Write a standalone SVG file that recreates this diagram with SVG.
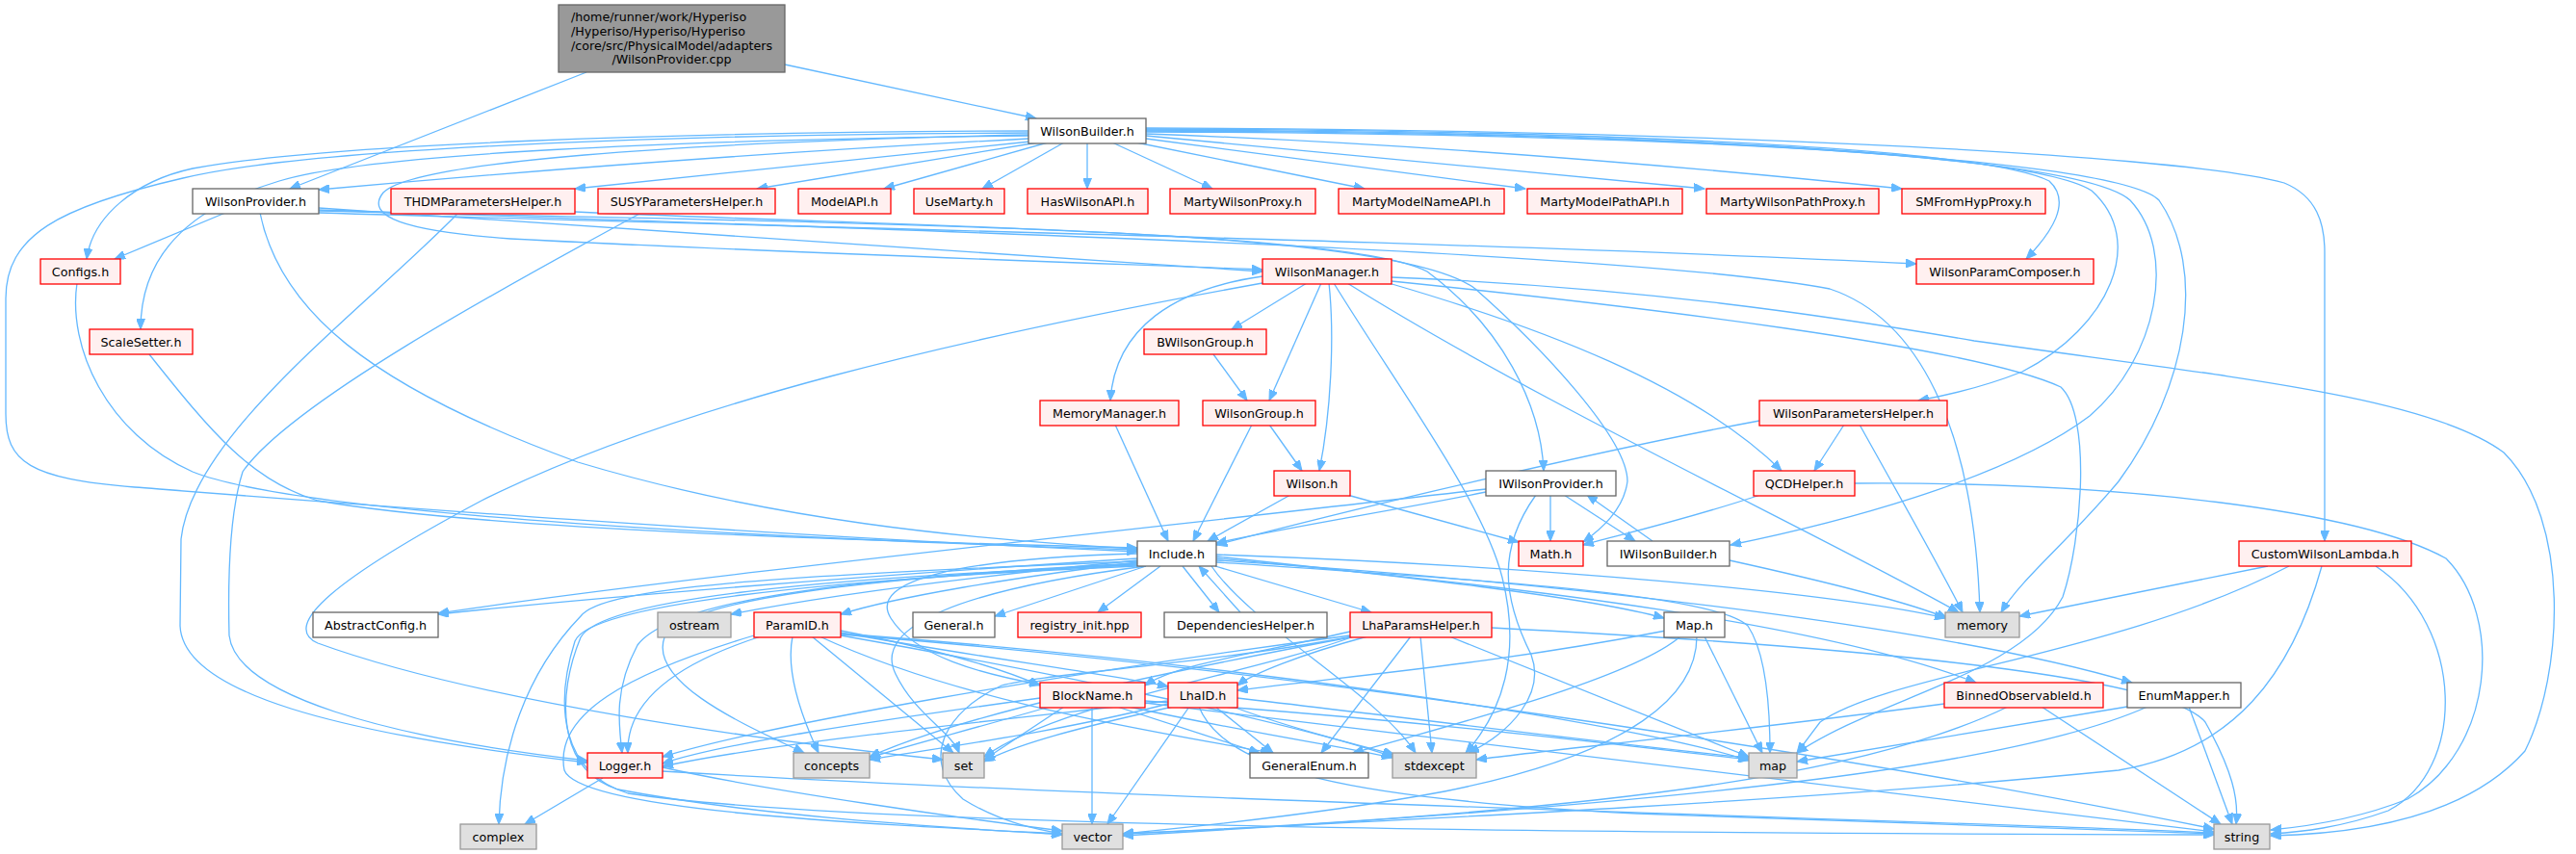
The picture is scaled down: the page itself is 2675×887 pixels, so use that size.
<svg xmlns="http://www.w3.org/2000/svg" width="2675" height="887" viewBox="0 0 2675 887">
<style>
text{font-family:"DejaVu Sans","Liberation Sans",sans-serif;font-size:12.7px;fill:#000;text-anchor:middle}
.r rect{fill:#fff0f0;stroke:#ff0000;stroke-width:1.3}
.w rect{fill:#ffffff;stroke:#666666;stroke-width:1.3}
.g rect{fill:#e0e0e0;stroke:#999999;stroke-width:1.3}
.root rect{fill:#999999;stroke:#666666;stroke-width:1.3}
#edges path{fill:none;stroke:#63b8ff;stroke-width:1.3;marker-end:url(#ah)}
</style>
<defs>
<marker id="ah" markerUnits="userSpaceOnUse" markerWidth="12" markerHeight="9" refX="11" refY="4.5" orient="auto">
<path d="M0,0 L11,4.5 L0,9 z" fill="#63b8ff" stroke="#63b8ff" stroke-width="1"/>
</marker>
</defs>
<rect width="2675" height="887" fill="#ffffff"/>
<g id="edges">
<path d="M609,75 L301,196"/>
<path d="M815,67 L1076,123"/>
<path d="M1068,136 C700,137 330,150 200,175 C140,188 96,225 90,269"/>
<path d="M1068,138 C620,140 300,158 190,185 C60,215 6,245 6,310 L6,430 C6,480 30,497 140,506 C320,520 760,555 1181,573"/>
<path d="M1068,141 C700,145 380,160 290,188 C210,212 146,255 146,342"/>
<path d="M1068,144 C800,158 520,180 331,197"/>
<path d="M1070,147 L597,196"/>
<path d="M1078,148 L786,196"/>
<path d="M1088,148 L918,196"/>
<path d="M1105,148 L1020,196"/>
<path d="M1129,148 L1129,196"/>
<path d="M1155,148 L1259,196"/>
<path d="M1180,148 L1417,196"/>
<path d="M1190,144 L1584,196"/>
<path d="M1190,141 L1770,196"/>
<path d="M1190,139 C1500,150 1800,178 1975,196"/>
<path d="M1068,140 C700,148 430,168 398,200 C378,225 420,240 530,248 C800,262 1100,272 1311,280"/>
<path d="M1190,134 C1600,135 2050,150 2128,188 C2152,210 2130,242 2104,269"/>
<path d="M1190,135 C1700,137 2110,158 2172,198 C2230,250 2190,340 2100,386 C2060,402 2025,410 1992,416"/>
<path d="M1190,136 C1750,138 2160,162 2212,208 C2262,262 2240,372 2170,432 C2080,500 1900,545 1797,566"/>
<path d="M1190,137 C1800,139 2205,168 2242,208 C2292,280 2272,402 2200,500 C2150,560 2098,602 2078,636"/>
<path d="M1190,133 C1700,134 2260,158 2372,190 C2406,204 2414,232 2414,262 L2414,562"/>
<path d="M1399,294 C1600,420 1900,560 2034,636"/>
<path d="M1445,288 C1700,298 1900,328 2050,354 C2300,390 2520,410 2600,470 C2670,540 2662,700 2622,780 C2560,850 2450,866 2358,868"/>
<path d="M1445,292 C1700,318 2050,360 2140,402 C2172,432 2162,560 2142,620 C2100,700 1950,725 1866,782"/>
<path d="M1385,294 C1450,400 1540,520 1560,600 C1580,680 1560,740 1522,782"/>
<path d="M1357,294 L1279,342"/>
<path d="M1372,294 L1318,416"/>
<path d="M1380,294 C1386,350 1382,430 1370,489"/>
<path d="M1311,287 C1220,300 1158,340 1153,416"/>
<path d="M1311,294 C1000,350 700,420 500,520 C350,600 290,650 330,668 C500,730 800,770 979,789"/>
<path d="M1442,294 C1600,340 1760,400 1850,489"/>
<path d="M331,216 C700,238 1000,262 1311,282"/>
<path d="M331,219 C900,232 1400,238 1482,282 C1560,340 1600,420 1603,489"/>
<path d="M331,221 C900,238 1500,250 1990,274"/>
<path d="M331,218 C1000,240 1700,262 1900,300 C1990,330 2050,440 2056,636"/>
<path d="M234,221 L119,269"/>
<path d="M270,221 C290,320 380,400 600,480 C800,540 1000,560 1181,570"/>
<path d="M476,221 C380,320 200,450 188,560 L187,650 C190,720 350,762 610,792"/>
<path d="M597,220 C1000,238 1450,238 1532,300 C1600,360 1690,455 1690,500 C1686,530 1662,550 1644,563"/>
<path d="M666,221 C520,300 300,420 252,490 C236,540 237,620 238,660 C245,722 400,766 610,790"/>
<path d="M80,294 C70,360 110,450 200,490 C300,530 700,556 1181,571"/>
<path d="M155,368 C220,450 262,500 330,520 C500,550 900,562 1181,569"/>
<path d="M1260,368 L1295,416"/>
<path d="M1300,441 L1239,562"/>
<path d="M1318,441 L1352,489"/>
<path d="M1158,441 L1213,562"/>
<path d="M1340,514 L1254,562"/>
<path d="M1399,514 L1577,563"/>
<path d="M1543,511 C1450,530 1350,545 1263,564"/>
<path d="M1543,508 C1200,548 700,600 455,637"/>
<path d="M1610,514 L1610,562"/>
<path d="M1624,514 L1698,562"/>
<path d="M1716,562 L1648,514"/>
<path d="M1796,582 C1900,605 1980,625 2022,642"/>
<path d="M1595,514 C1555,570 1560,620 1590,680 C1605,720 1570,760 1525,782"/>
<path d="M1828,514 C1750,540 1680,556 1644,566"/>
<path d="M1926,502 C2200,500 2450,530 2540,580 C2600,640 2590,780 2500,830 C2450,850 2400,858 2358,862"/>
<path d="M1915,441 L1884,489"/>
<path d="M1827,437 C1650,470 1400,530 1263,566"/>
<path d="M1931,441 C1975,520 2015,590 2038,636"/>
<path d="M2355,588 L2097,640"/>
<path d="M2377,588 C2200,680 1960,700 1890,750 L1866,782"/>
<path d="M2411,588 C2380,700 2320,780 2200,800 C1900,830 1500,850 1166,866"/>
<path d="M2467,588 C2560,650 2562,800 2480,842 C2430,860 2390,864 2358,866"/>
<path d="M1181,580 C900,598 620,620 455,638"/>
<path d="M1181,582 C1000,600 850,620 759,638"/>
<path d="M1181,584 C1050,600 930,620 873,638"/>
<path d="M1190,588 L1033,640"/>
<path d="M1205,588 L1140,636"/>
<path d="M1228,588 L1266,636"/>
<path d="M1288,636 L1245,588"/>
<path d="M1262,588 L1424,636"/>
<path d="M1263,578 C1450,598 1650,620 1728,642"/>
<path d="M1263,576 C1600,588 1900,615 2020,642"/>
<path d="M1263,580 C1600,610 1900,650 2052,709"/>
<path d="M1263,582 C1700,610 2050,660 2214,709"/>
<path d="M1181,585 C900,600 700,620 662,670 C638,715 642,750 646,782"/>
<path d="M1181,586 C900,600 710,622 690,662 C672,712 790,760 835,782"/>
<path d="M1181,583 C800,598 625,610 603,640 C545,700 520,780 518,856"/>
<path d="M1190,588 C1000,612 905,650 930,700 C950,742 988,760 996,782"/>
<path d="M1181,587 C850,600 625,622 603,662 C578,722 578,800 642,820 C800,850 1000,860 1103,867"/>
<path d="M1181,588 C850,602 612,628 597,666 C576,732 582,802 652,824 C900,862 1800,866 2299,867"/>
<path d="M1263,584 C1500,600 1780,615 1815,650 C1835,680 1838,740 1838,782"/>
<path d="M1258,588 C1300,650 1430,720 1470,782"/>
<path d="M1181,575 C1000,580 900,602 925,642 C950,682 1020,700 1080,711"/>
<path d="M790,661 C700,690 650,730 652,782"/>
<path d="M783,660 C650,700 575,742 586,800 C602,842 900,856 1103,866"/>
<path d="M823,661 C815,700 835,750 850,782"/>
<path d="M843,661 L990,782"/>
<path d="M851,661 C1000,730 1200,760 1320,782"/>
<path d="M873,655 C950,670 1030,690 1080,712"/>
<path d="M873,657 C1000,680 1150,700 1213,713"/>
<path d="M873,659 C1400,700 2000,800 2299,861"/>
<path d="M873,658 C1300,690 1700,752 1816,790"/>
<path d="M873,660 C1100,700 1350,752 1446,786"/>
<path d="M1402,656 C1300,680 1220,690 1189,712"/>
<path d="M1420,661 C1350,680 1300,700 1285,712"/>
<path d="M1402,660 C1100,700 800,752 688,786"/>
<path d="M1402,662 C1200,700 1000,742 903,786"/>
<path d="M1406,661 C1300,700 1100,730 1022,786"/>
<path d="M1465,661 L1372,782"/>
<path d="M1475,661 L1487,782"/>
<path d="M1505,661 L1816,786"/>
<path d="M1549,652 C1900,670 2250,700 2290,750 C2318,800 2325,830 2322,856"/>
<path d="M1405,661 C1250,690 1080,700 1040,712 C980,740 955,790 1000,830 C1040,855 1080,862 1103,866"/>
<path d="M1730,655 C1550,690 1400,702 1285,717"/>
<path d="M1745,661 C1700,700 1550,742 1405,782"/>
<path d="M1762,661 C1762,720 1700,782 1500,822 C1350,850 1200,862 1166,866"/>
<path d="M1770,661 L1830,782"/>
<path d="M1080,725 C900,750 750,772 688,793"/>
<path d="M1090,734 C1000,760 950,772 903,787"/>
<path d="M1105,734 L1022,789"/>
<path d="M1134,734 L1134,856"/>
<path d="M1189,730 C1600,780 2100,840 2299,864"/>
<path d="M1172,734 C1300,762 1400,776 1446,787"/>
<path d="M1160,734 L1308,782"/>
<path d="M1189,728 C1500,750 1700,776 1816,789"/>
<path d="M1213,728 C1000,752 800,772 688,796"/>
<path d="M1213,731 C1100,760 980,776 903,789"/>
<path d="M1218,734 C1100,760 1050,776 1022,791"/>
<path d="M1235,734 L1150,856"/>
<path d="M1245,734 C1272,800 1400,830 1700,845 C2000,855 2200,862 2299,866"/>
<path d="M1262,734 L1322,782"/>
<path d="M1280,734 C1350,760 1420,776 1448,784"/>
<path d="M1285,725 C1500,750 1700,776 1816,787"/>
<path d="M2019,731 C1800,760 1600,780 1533,789"/>
<path d="M2085,734 C1950,800 1700,842 1166,866"/>
<path d="M2120,734 L2306,856"/>
<path d="M2209,734 L1866,791"/>
<path d="M2230,734 C2100,792 1800,832 1166,868"/>
<path d="M2273,734 L2318,856"/>
<path d="M626,808 L545,856"/>
<path d="M688,797 C800,822 1000,850 1103,863"/>
<path d="M688,801 C1200,832 2000,852 2299,865"/>
</g>
<g id="n_root" class="root"><rect x="580" y="5" width="235" height="70"/>
<text x="593" y="21.5" style="text-anchor:start">/home/runner/work/Hyperiso</text>
<text x="593" y="36.5" style="text-anchor:start">/Hyperiso/Hyperiso/Hyperiso</text>
<text x="593" y="51.5" style="text-anchor:start">/core/src/PhysicalModel/adapters</text>
<text x="697.5" y="66">/WilsonProvider.cpp</text></g>
<g id="n_WilsonBuilder" class="w"><rect x="1068" y="123" width="122" height="26"/><text x="1129" y="140.5">WilsonBuilder.h</text></g>
<g id="n_WilsonProvider" class="w"><rect x="200" y="196" width="131" height="26"/><text x="265.5" y="213.5">WilsonProvider.h</text></g>
<g id="n_THDM" class="r"><rect x="406" y="196" width="191" height="26"/><text x="501.5" y="213.5">THDMParametersHelper.h</text></g>
<g id="n_SUSY" class="r"><rect x="621" y="196" width="184" height="26"/><text x="713" y="213.5">SUSYParametersHelper.h</text></g>
<g id="n_ModelAPI" class="r"><rect x="829" y="196" width="96" height="26"/><text x="877" y="213.5">ModelAPI.h</text></g>
<g id="n_UseMarty" class="r"><rect x="949" y="196" width="94" height="26"/><text x="996" y="213.5">UseMarty.h</text></g>
<g id="n_HasWilsonAPI" class="r"><rect x="1067" y="196" width="125" height="26"/><text x="1129.5" y="213.5">HasWilsonAPI.h</text></g>
<g id="n_MartyWilsonProxy" class="r"><rect x="1215" y="196" width="151" height="26"/><text x="1290.5" y="213.5">MartyWilsonProxy.h</text></g>
<g id="n_MartyModelNameAPI" class="r"><rect x="1390" y="196" width="172" height="26"/><text x="1476" y="213.5">MartyModelNameAPI.h</text></g>
<g id="n_MartyModelPathAPI" class="r"><rect x="1586" y="196" width="161" height="26"/><text x="1666.5" y="213.5">MartyModelPathAPI.h</text></g>
<g id="n_MartyWilsonPathProxy" class="r"><rect x="1772" y="196" width="179" height="26"/><text x="1861.5" y="213.5">MartyWilsonPathProxy.h</text></g>
<g id="n_SMFromHypProxy" class="r"><rect x="1975" y="196" width="149" height="26"/><text x="2049.5" y="213.5">SMFromHypProxy.h</text></g>
<g id="n_Configs" class="r"><rect x="42" y="269" width="83" height="26"/><text x="83.5" y="286.5">Configs.h</text></g>
<g id="n_WilsonManager" class="r"><rect x="1311" y="269" width="134" height="26"/><text x="1378" y="286.5">WilsonManager.h</text></g>
<g id="n_WilsonParamComposer" class="r"><rect x="1990" y="269" width="184" height="26"/><text x="2082" y="286.5">WilsonParamComposer.h</text></g>
<g id="n_ScaleSetter" class="r"><rect x="93" y="342" width="107" height="26"/><text x="146.5" y="359.5">ScaleSetter.h</text></g>
<g id="n_BWilsonGroup" class="r"><rect x="1188" y="342" width="127" height="26"/><text x="1251.5" y="359.5">BWilsonGroup.h</text></g>
<g id="n_MemoryManager" class="r"><rect x="1080" y="416" width="144" height="26"/><text x="1152" y="433.5">MemoryManager.h</text></g>
<g id="n_WilsonGroup" class="r"><rect x="1249" y="416" width="117" height="26"/><text x="1307.5" y="433.5">WilsonGroup.h</text></g>
<g id="n_WilsonParametersHelper" class="r"><rect x="1827" y="416" width="195" height="26"/><text x="1924.5" y="433.5">WilsonParametersHelper.h</text></g>
<g id="n_Wilson" class="r"><rect x="1323" y="489" width="79" height="26"/><text x="1362.5" y="506.5">Wilson.h</text></g>
<g id="n_IWilsonProvider" class="w"><rect x="1543" y="489" width="135" height="26"/><text x="1610.5" y="506.5">IWilsonProvider.h</text></g>
<g id="n_QCDHelper" class="r"><rect x="1821" y="489" width="105" height="26"/><text x="1873.5" y="506.5">QCDHelper.h</text></g>
<g id="n_Include" class="w"><rect x="1181" y="562" width="82" height="26"/><text x="1222" y="579.5">Include.h</text></g>
<g id="n_Math" class="r"><rect x="1577" y="562" width="67" height="26"/><text x="1610.5" y="579.5">Math.h</text></g>
<g id="n_IWilsonBuilder" class="w"><rect x="1669" y="562" width="127" height="26"/><text x="1732.5" y="579.5">IWilsonBuilder.h</text></g>
<g id="n_CustomWilsonLambda" class="r"><rect x="2325" y="562" width="179" height="26"/><text x="2414.5" y="579.5">CustomWilsonLambda.h</text></g>
<g id="n_AbstractConfig" class="w"><rect x="325" y="636" width="130" height="26"/><text x="390" y="653.5">AbstractConfig.h</text></g>
<g id="n_ostream" class="g"><rect x="683" y="636" width="76" height="26"/><text x="721" y="653.5">ostream</text></g>
<g id="n_ParamID" class="r"><rect x="783" y="636" width="90" height="26"/><text x="828" y="653.5">ParamID.h</text></g>
<g id="n_General" class="w"><rect x="948" y="636" width="85" height="26"/><text x="990.5" y="653.5">General.h</text></g>
<g id="n_registry_init" class="r"><rect x="1057" y="636" width="128" height="26"/><text x="1121" y="653.5">registry_init.hpp</text></g>
<g id="n_DependenciesHelper" class="w"><rect x="1209" y="636" width="169" height="26"/><text x="1293.5" y="653.5">DependenciesHelper.h</text></g>
<g id="n_LhaParamsHelper" class="r"><rect x="1402" y="636" width="147" height="26"/><text x="1475.5" y="653.5">LhaParamsHelper.h</text></g>
<g id="n_Map" class="w"><rect x="1728" y="636" width="63" height="26"/><text x="1759.5" y="653.5">Map.h</text></g>
<g id="n_memory" class="g"><rect x="2020" y="636" width="77" height="26"/><text x="2058.5" y="653.5">memory</text></g>
<g id="n_BlockName" class="r"><rect x="1080" y="709" width="109" height="26"/><text x="1134.5" y="726.5">BlockName.h</text></g>
<g id="n_LhaID" class="r"><rect x="1213" y="709" width="72" height="26"/><text x="1249" y="726.5">LhaID.h</text></g>
<g id="n_BinnedObservableId" class="r"><rect x="2019" y="709" width="165" height="26"/><text x="2101.5" y="726.5">BinnedObservableId.h</text></g>
<g id="n_EnumMapper" class="w"><rect x="2209" y="709" width="118" height="26"/><text x="2268" y="726.5">EnumMapper.h</text></g>
<g id="n_Logger" class="r"><rect x="610" y="782" width="78" height="26"/><text x="649" y="799.5">Logger.h</text></g>
<g id="n_concepts" class="g"><rect x="824" y="782" width="79" height="26"/><text x="863.5" y="799.5">concepts</text></g>
<g id="n_set" class="g"><rect x="979" y="782" width="43" height="26"/><text x="1000.5" y="799.5">set</text></g>
<g id="n_GeneralEnum" class="w"><rect x="1298" y="782" width="123" height="26"/><text x="1359.5" y="799.5">GeneralEnum.h</text></g>
<g id="n_stdexcept" class="g"><rect x="1446" y="782" width="87" height="26"/><text x="1489.5" y="799.5">stdexcept</text></g>
<g id="n_map" class="g"><rect x="1816" y="782" width="50" height="26"/><text x="1841" y="799.5">map</text></g>
<g id="n_complex" class="g"><rect x="478" y="856" width="79" height="26"/><text x="517.5" y="873.5">complex</text></g>
<g id="n_vector" class="g"><rect x="1103" y="856" width="63" height="26"/><text x="1134.5" y="873.5">vector</text></g>
<g id="n_string" class="g"><rect x="2299" y="856" width="58" height="26"/><text x="2328" y="873.5">string</text></g>
</svg>
